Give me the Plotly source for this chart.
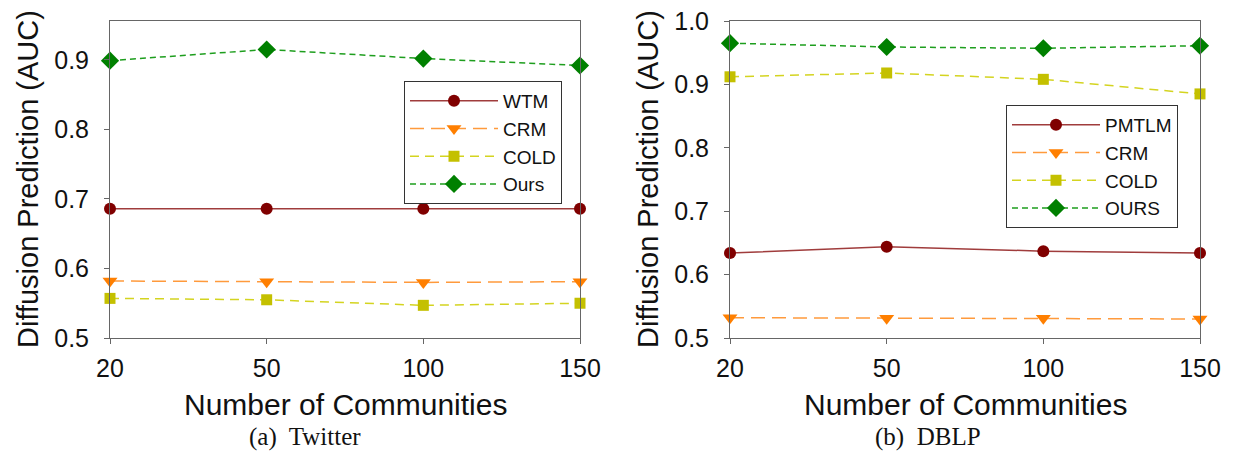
import plotly.graph_objects as go

categories = ["20", "50", "100", "150"]

# (a) Twitter
tw_wtm = [0.686, 0.686, 0.686, 0.686]
tw_crm = [0.582, 0.581, 0.580, 0.581]
tw_cold = [0.557, 0.555, 0.547, 0.550]
tw_ours = [0.899, 0.915, 0.902, 0.892]

# (b) DBLP
db_pmtlm = [0.634, 0.644, 0.637, 0.634]
db_crm = [0.532, 0.531, 0.531, 0.530]
db_cold = [0.912, 0.918, 0.908, 0.885]
db_ours = [0.965, 0.959, 0.957, 0.961]

left_names = ["WTM", "CRM", "COLD", "Ours"]
right_names = ["PMTLM", "CRM", "COLD", "OURS"]

styles = [
    dict(line=dict(color="#A03C3C", width=1.5, dash="solid"),
         marker=dict(color="#800000", symbol="circle", size=12)),
    dict(line=dict(color="#FF9A3C", width=1.5, dash="14px,7px"),
         marker=dict(color="#FF7F00", symbol="triangle-down", size=13)),
    dict(line=dict(color="#D4D420", width=1.5, dash="9px,6px"),
         marker=dict(color="#C4C000", symbol="square", size=11)),
    dict(line=dict(color="#1E9E1E", width=1.5, dash="6px,4px"),
         marker=dict(color="#008000", symbol="diamond", size=14)),
]

fig = go.Figure()
for name, ys, st in zip(left_names, [tw_wtm, tw_crm, tw_cold, tw_ours], styles):
    fig.add_trace(go.Scatter(x=categories, y=ys, name=name, mode="lines+markers",
                             line=st["line"], marker=st["marker"], cliponaxis=False,
                             xaxis="x", yaxis="y", legend="legend"))
for name, ys, st in zip(right_names, [db_pmtlm, db_crm, db_cold, db_ours], styles):
    fig.add_trace(go.Scatter(x=categories, y=ys, name=name, mode="lines+markers",
                             line=st["line"], marker=st["marker"], cliponaxis=False,
                             xaxis="x2", yaxis="y2", legend="legend2"))

W, H = 1233, 453
font = "Liberation Sans, Arial, sans-serif"
FRAME = "#666666"


def axis(**kw):
    d = dict(showline=True, linecolor=FRAME, linewidth=1, mirror=True,
             showgrid=False, zeroline=False, ticks="outside", ticklen=5,
             tickcolor=FRAME, tickwidth=1, automargin=False,
             tickfont=dict(family=font, size=25, color="#111"))
    d.update(kw)
    return d


PX0, PX1 = 110, 580
QX0, QX1 = 730, 1200
PY0, PY1 = 21, 338

legend_common = dict(xanchor="left", yanchor="top", bordercolor="#333", borderwidth=1,
                     bgcolor="white", font=dict(family=font, size=19, color="#111"),
                     itemwidth=88, tracegroupgap=0)

fig.update_layout(
    template="simple_white",
    width=W, height=H, margin=dict(l=0, r=0, t=0, b=0, autoexpand=False),
    paper_bgcolor="white", plot_bgcolor="white",
    xaxis=axis(domain=[PX0 / W, PX1 / W], type="category", range=[0, 3], anchor="y",
               ticklabelstandoff=3),
    yaxis=axis(domain=[1 - PY1 / H, 1 - PY0 / H], range=[0.5, 0.956], dtick=0.1,
               tick0=0.5, tickformat=".1f", anchor="x", ticklabelstandoff=10),
    xaxis2=axis(domain=[QX0 / W, QX1 / W], type="category", range=[0, 3], anchor="y2",
                ticklabelstandoff=3),
    yaxis2=axis(domain=[1 - PY1 / H, 1 - PY0 / H], range=[0.5, 1.0], dtick=0.1,
                tick0=0.5, tickformat=".1f", anchor="x2", ticklabelstandoff=10),
    legend=dict(x=404 / W, y=1 - 81 / H, **legend_common),
    legend2=dict(x=1006 / W, y=1 - 105 / H, **legend_common),
    showlegend=True,
)

ann = []
for cx in [(PX0 + PX1) / 2, (QX0 + QX1) / 2]:
    ann.append(dict(x=cx / W, y=1 - 404 / H, xref="paper", yref="paper", text="Number of Communities",
                    showarrow=False, font=dict(family=font, size=30, color="#111"),
                    xanchor="center", yanchor="middle"))
for cx, cap in [(305, "(a)  Twitter"), (928, "(b)  DBLP")]:
    ann.append(dict(x=cx / W, y=1 - 437 / H, xref="paper", yref="paper", text=cap,
                    showarrow=False,
                    font=dict(family="Liberation Serif, Times New Roman, serif", size=25, color="#111"),
                    xanchor="center", yanchor="middle"))
for cx in [28, 648]:
    ann.append(dict(x=cx / W, y=1 - 179 / H, xref="paper", yref="paper", text="Diffusion Prediction (AUC)",
                    showarrow=False, textangle=-90, font=dict(family=font, size=29, color="#111"),
                    xanchor="center", yanchor="middle"))
fig.update_layout(annotations=ann)

fig.write_html("out.html")
